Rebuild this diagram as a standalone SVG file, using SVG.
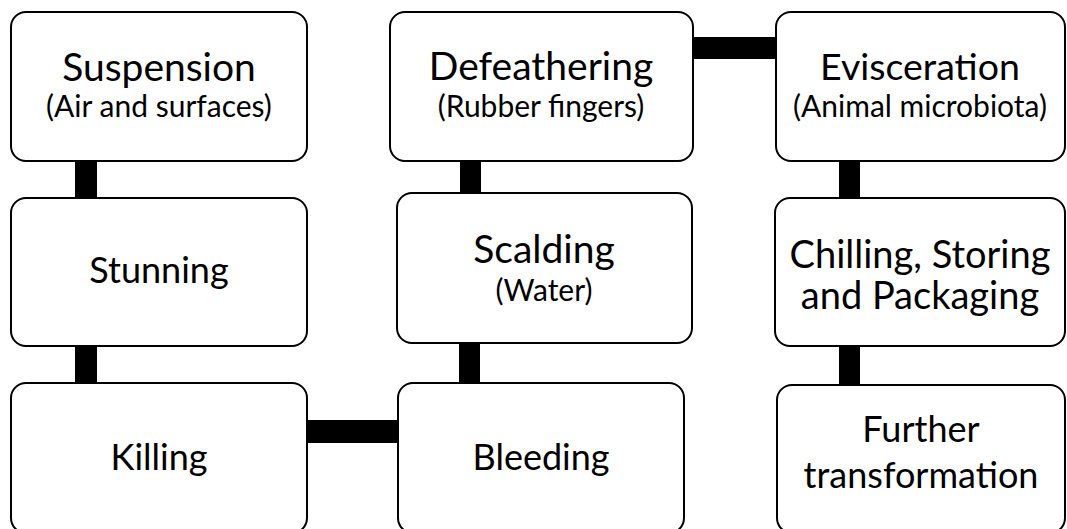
<svg xmlns="http://www.w3.org/2000/svg" width="1067" height="529" viewBox="0 0 1067 529">
<style>
.box{fill:#fff;stroke:#000;stroke-width:2}
.t{font-family:Lato,"Open Sans",sans-serif;fill:#000;text-anchor:middle}
.big{font-size:39px}
.mid{font-size:36px}
.sub{font-size:30px}
.c{fill:#000}
</style>
<rect width="1067" height="529" fill="#fff"/>
<g id="connectors">
<rect class="c" x="75" y="160" width="22" height="39"/>
<rect class="c" x="75" y="345" width="22" height="39"/>
<rect class="c" x="306" y="420" width="93" height="23"/>
<rect class="c" x="459" y="342" width="21" height="42"/>
<rect class="c" x="460" y="160" width="21" height="34"/>
<rect class="c" x="692" y="37" width="85" height="22"/>
<rect class="c" x="839" y="160" width="21" height="39"/>
<rect class="c" x="839" y="345" width="21" height="41"/>
</g>
<g id="suspension">
<rect class="box" x="11" y="12" width="296" height="149" rx="15"/>
<text class="t big" x="159" y="81">Suspension</text>
<text class="t sub" x="159" y="117">(Air and surfaces)</text>
</g>
<g id="stunning">
<rect class="box" x="11" y="198" width="296" height="148" rx="15"/>
<text class="t mid" x="159" y="283">Stunning</text>
</g>
<g id="killing">
<rect class="box" x="11" y="383" width="296" height="150" rx="15"/>
<text class="t mid" x="159" y="470">Killing</text>
</g>
<g id="defeathering">
<rect class="box" x="390" y="12" width="303" height="149" rx="15"/>
<text class="t big" x="541" y="80">Defeathering</text>
<text class="t sub" x="541" y="117">(Rubber fingers)</text>
</g>
<g id="scalding">
<rect class="box" x="397" y="193" width="295" height="150" rx="15"/>
<text class="t big" x="544" y="263">Scalding</text>
<text class="t sub" x="544" y="301">(Water)</text>
</g>
<g id="bleeding">
<rect class="box" x="398" y="383" width="286" height="150" rx="15"/>
<text class="t mid" x="541" y="470">Bleeding</text>
</g>
<g id="evisceration">
<rect class="box" x="776" y="12" width="289" height="149" rx="15"/>
<text class="t" style="font-size:37.5px" x="920" y="80">Evisceration</text>
<text class="t sub" x="920" y="117">(Animal microbiota)</text>
</g>
<g id="chilling">
<rect class="box" x="775" y="198" width="290" height="148" rx="15"/>
<text class="t" style="font-size:38px" x="920" y="268">Chilling, Storing</text>
<text class="t" style="font-size:38px" x="920" y="309">and Packaging</text>
</g>
<g id="further">
<rect class="box" x="777" y="385" width="288" height="148" rx="15"/>
<text class="t mid" x="921" y="442">Further</text>
<text class="t mid" x="921" y="488">transformation</text>
</g>
</svg>
